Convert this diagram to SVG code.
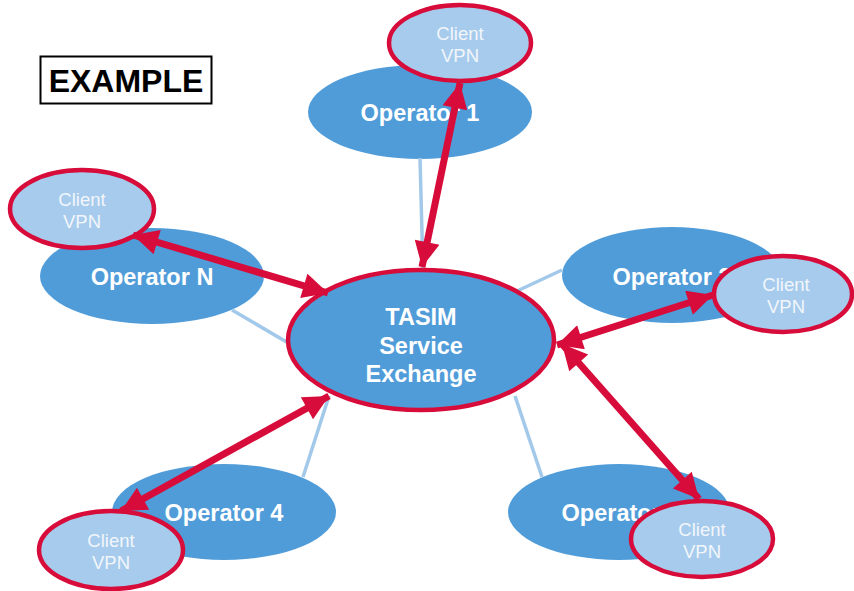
<svg xmlns="http://www.w3.org/2000/svg" width="854" height="591" viewBox="0 0 854 591">
<defs>
<marker id="ah" viewBox="0 0 10 10" refX="10" refY="5" markerWidth="4" markerHeight="3.6" orient="auto-start-reverse" markerUnits="strokeWidth">
<path d="M0,0 L10,5 L0,10 Z" fill="#d70c3a"/>
</marker>
</defs>
<style>
.op{fill:#509cd9}
.cl{fill:#a6cbec;stroke:#d70c3a;stroke-width:4.5}
.hub{fill:#509cd9;stroke:#d70c3a;stroke-width:4.5}
.lk{stroke:#a3c9ea;stroke-width:3.5;fill:none}
.ar{stroke:#d70c3a;stroke-width:7;fill:none;marker-start:url(#ah);marker-end:url(#ah)}
.bt{font-family:"Liberation Sans",Arial,sans-serif;font-weight:bold;font-size:23.5px;fill:#fff;text-anchor:middle}
.ct{font-family:"Liberation Sans",Arial,sans-serif;font-size:18.5px;fill:#f2f6fb;text-anchor:middle}
</style>
<rect width="854" height="591" fill="#fff"/>
<g id="example">
<rect x="40.5" y="56.5" width="171" height="47" fill="#fff" stroke="#000" stroke-width="2"/>
<text x="126" y="92" font-family="Liberation Sans,Arial,sans-serif" font-weight="bold" font-size="32" text-anchor="middle" fill="#000">EXAMPLE</text>
</g>
<g id="op1"><ellipse class="op" cx="420" cy="112" rx="112" ry="47"/><text class="bt" x="420" y="121">Operator 1</text></g>
<g id="opN"><ellipse class="op" cx="152" cy="276" rx="112" ry="48"/><text class="bt" x="152" y="285">Operator N</text></g>
<g id="op2"><ellipse class="op" cx="672" cy="275" rx="110" ry="48"/><text class="bt" x="672" y="285">Operator 2</text></g>
<g id="op4"><ellipse class="op" cx="224" cy="512" rx="112" ry="48"/><text class="bt" x="224" y="521">Operator 4</text></g>
<g id="op3"><ellipse class="op" cx="619" cy="512" rx="111" ry="48"/><text class="bt" x="621" y="521">Operator 3</text></g>
<g id="links">
<line class="lk" x1="420" y1="158" x2="423" y2="271"/>
<line class="lk" x1="232" y1="310" x2="290" y2="344"/>
<line class="lk" x1="562" y1="270" x2="515" y2="292"/>
<line class="lk" x1="303" y1="477" x2="329" y2="396"/>
<line class="lk" x1="515" y1="396" x2="542" y2="477"/>
</g>
<g id="hub"><ellipse class="hub" cx="421" cy="340" rx="133" ry="70"/>
<text class="bt" x="421" y="325">TASIM</text><text class="bt" x="421" y="354">Service</text><text class="bt" x="421" y="382">Exchange</text></g>
<g id="vpn1"><ellipse class="cl" cx="460" cy="43" rx="71" ry="38"/><text class="ct" x="460" y="40">Client</text><text class="ct" x="460" y="62">VPN</text></g>
<g id="vpnN"><ellipse class="cl" cx="82" cy="209" rx="72" ry="39"/><text class="ct" x="82" y="206">Client</text><text class="ct" x="82" y="228">VPN</text></g>
<g id="vpn2"><ellipse class="cl" cx="783" cy="294" rx="69" ry="38"/><text class="ct" x="786" y="291">Client</text><text class="ct" x="786" y="313">VPN</text></g>
<g id="vpn4"><ellipse class="cl" cx="111" cy="550" rx="72" ry="39"/><text class="ct" x="111" y="547">Client</text><text class="ct" x="111" y="569">VPN</text></g>
<g id="vpn3"><ellipse class="cl" cx="702" cy="539" rx="71" ry="38"/><text class="ct" x="702" y="536">Client</text><text class="ct" x="702" y="558">VPN</text></g>
<g id="connectors">
<line class="ar" x1="422" y1="267" x2="460" y2="83"/>
<line class="ar" x1="133" y1="235" x2="328" y2="293"/>
<line class="ar" x1="557" y1="345" x2="713" y2="295"/>
<line class="ar" x1="121" y1="511" x2="329" y2="396"/>
<line class="ar" x1="562" y1="344" x2="699" y2="499"/>
</g>
</svg>
